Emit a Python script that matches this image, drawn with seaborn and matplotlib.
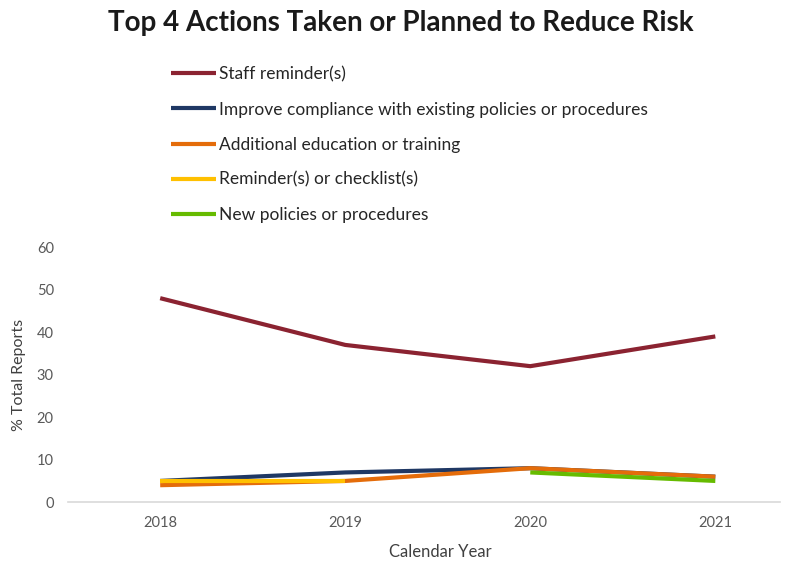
import numpy as np
import pandas as pd
import matplotlib
matplotlib.use("Agg")
import matplotlib.pyplot as plt
import seaborn as sns

years = ["2018", "2019", "2020", "2021"]
series_names = [
    "Staff reminder(s)",
    "Improve compliance with existing policies or procedures",
    "Additional education or training",
    "Reminder(s) or checklist(s)",
    "New policies or procedures",
]
staff_reminders = [48, 37, 32, 39]
improve_compliance = [5, 7, 8, 6]
additional_education = [4, 5, 8, 6]
reminders_checklists = [5, 5, np.nan, np.nan]
new_policies = [np.nan, np.nan, 7, 5]
colors = ["#8B2331", "#1F3864", "#E46C0A", "#FFC000", "#66BB00"]

values = [staff_reminders, improve_compliance, additional_education,
          reminders_checklists, new_policies]
rows = []
for name, vals in zip(series_names, values):
    for i, (yr, v) in enumerate(zip(years, vals)):
        rows.append({"series": name, "pos": i, "year": yr, "value": v})
df = pd.DataFrame(rows)

sns.set_theme(style="white")
plt.rcParams["font.family"] = ["Lato", "DejaVu Sans"]

fig = plt.figure(figsize=(7.96, 5.63), dpi=100)
ax = fig.add_axes([0.085, 0.108, 0.895, 0.453])

sns.lineplot(data=df.dropna(), x="pos", y="value", hue="series",
             hue_order=series_names, palette=colors, linewidth=3,
             legend=False, ax=ax, sort=True)
for ln in ax.lines:
    ln.set_solid_capstyle("butt")

ax.set_ylim(0, 60)
ax.set_yticks(range(0, 61, 10))
ax.set_xlim(-0.5, 3.35)
ax.set_xticks(range(len(years)))
ax.set_xticklabels(years)
ax.tick_params(axis="both", colors="#595959", labelsize=10.5, length=0, pad=10)
for s in ["top", "right", "left"]:
    ax.spines[s].set_visible(False)
ax.spines["bottom"].set_color("#D9D9D9")
ax.spines["bottom"].set_linewidth(1.2)

ax.set_ylabel("% Total Reports", fontsize=11.5, color="#404040", labelpad=8)
ax.set_xlabel("")
fig.text(0.553, 0.005, "Calendar Year", fontsize=12, color="#404040",
         ha="center", va="bottom")

fig.suptitle("Top 4 Actions Taken or Planned to Reduce Risk", x=0.504, y=0.983,
             fontsize=20, fontweight="bold", color="#1a1a1a")

handles = ax.lines[:len(series_names)]
fig.legend(handles, series_names, loc="upper left",
           bbox_to_anchor=(0.195, 0.91), frameon=False, fontsize=12.5,
           handlelength=2.6, handletextpad=0.15, labelspacing=1.1,
           labelcolor="#262626")

fig.savefig("out.png", dpi=100)
